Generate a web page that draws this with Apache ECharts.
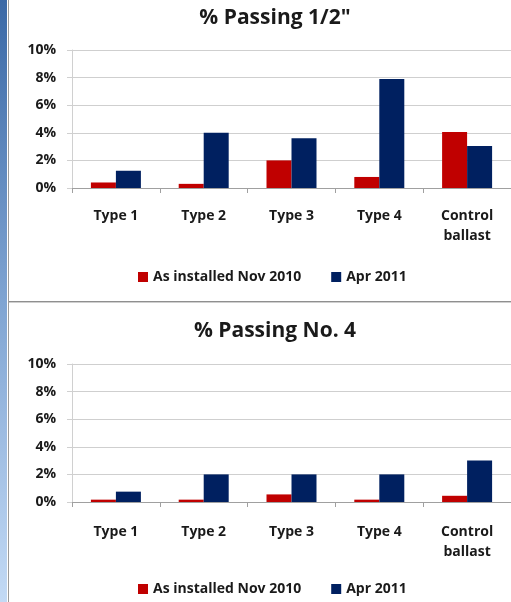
<!DOCTYPE html>
<html>
<head>
<meta charset="utf-8">
<script src="https://cdn.jsdelivr.net/npm/echarts@6/dist/echarts.min.js"></script>
<style>
html,body{margin:0;padding:0;background:#fff;}
#chart{width:511px;height:602px;}
</style>
</head>
<body>
<div id="chart"></div>
<script>
// ---- data ----
const categories = ['Type 1', 'Type 2', 'Type 3', 'Type 4', 'Control\nballast'];
const seriesNames = ['As installed Nov 2010', 'Apr 2011'];
const titles = ['% Passing 1/2"', '% Passing No. 4'];
const halfInchNov2010 = [0.4, 0.3, 2.0, 0.8, 4.05];
const halfInchApr2011 = [1.25, 4.0, 3.6, 7.9, 3.05];
const no4Nov2010 = [0.17, 0.17, 0.55, 0.17, 0.45];
const no4Apr2011 = [0.75, 2.0, 2.0, 2.0, 3.0];
const yMin = 0, yMax = 10, yStep = 2;

// ---- styles ----
const RED = '#c00000';
const NAVY = '#002060';
const FONT = '"Open Sans", "Noto Sans", sans-serif';
const TXT = '#1a1a1a';

const chart = echarts.init(document.getElementById('chart'), null, {renderer: 'canvas'});

const gridTops = [50, 364];
const gridHeight = 138;

function xAxis(i, margin) {
  return {
    type: 'category', gridIndex: i, data: categories,
    axisLine: {lineStyle: {color: '#a0a0a0', width: 1}},
    axisTick: {show: true, length: 5, alignWithLabel: false, lineStyle: {color: '#a0a0a0'}},
    axisLabel: {color: TXT, fontFamily: FONT, fontWeight: 'bold', fontSize: 14, lineHeight: 20, margin: margin, interval: 0}
  };
}
function yAxis(i) {
  return {
    type: 'value', gridIndex: i, min: yMin, max: yMax, interval: yStep,
    axisLine: {show: true, lineStyle: {color: '#d0d0d0'}},
    axisTick: {show: true, length: 5, lineStyle: {color: '#d0d0d0'}},
    splitLine: {lineStyle: {color: '#cfcfcf', width: 1}},
    axisLabel: {color: TXT, fontFamily: FONT, fontWeight: 'bold', fontSize: 14, margin: 16, formatter: '{value}%'}
  };
}
function bar(name, data, color, i) {
  return {
    name: name, type: 'bar', xAxisIndex: i, yAxisIndex: i, data: data,
    barWidth: 25, barGap: '0%', itemStyle: {color: color},
    emphasis: {disabled: true}, animation: false
  };
}
function legend(top) {
  return {
    left: 138, top: top, padding: 0, itemWidth: 10, itemHeight: 10, itemGap: 30,
    icon: 'rect',
    data: seriesNames,
    textStyle: {color: TXT, fontFamily: FONT, fontWeight: 'bold', fontSize: 14},
    selectedMode: false
  };
}

const option = {
  backgroundColor: '#ffffff',
  animation: false,
  title: [
    {text: titles[0], left: 270, top: 3, textAlign: 'center',
     textStyle: {color: TXT, fontFamily: FONT, fontWeight: 'bold', fontSize: 21}},
    {text: titles[1], left: 270, top: 316, textAlign: 'center',
     textStyle: {color: TXT, fontFamily: FONT, fontWeight: 'bold', fontSize: 21}}
  ],
  legend: [legend(270), legend(582)],
  grid: [
    {left: 72, top: gridTops[0], width: 443, height: gridHeight},
    {left: 72, top: gridTops[1], width: 443, height: gridHeight}
  ],
  xAxis: [xAxis(0, 18), xAxis(1, 20)],
  yAxis: [yAxis(0), yAxis(1)],
  series: [
    bar(seriesNames[0], halfInchNov2010, RED, 0),
    bar(seriesNames[1], halfInchApr2011, NAVY, 0),
    bar(seriesNames[0], no4Nov2010, RED, 1),
    bar(seriesNames[1], no4Apr2011, NAVY, 1)
  ],
  graphic: [
    {type: 'rect', left: 0, top: 0, shape: {x: 0, y: 0, width: 7, height: 602}, z: 100,
     style: {fill: new echarts.graphic.LinearGradient(0, 0, 0, 1, [
       {offset: 0, color: '#3b69a6'}, {offset: 0.5, color: '#7fa4d2'}, {offset: 1, color: '#c3daf5'}])}},
    {type: 'line', shape: {x1: 8.5, y1: 0, x2: 8.5, y2: 602}, z: 100,
     style: {stroke: '#9a9a9a', lineWidth: 1}},
    {type: 'line', shape: {x1: 9, y1: 301.5, x2: 511, y2: 301.5}, z: 100,
     style: {stroke: '#8f8f8f', lineWidth: 1}},
    {type: 'line', shape: {x1: 9, y1: 302.5, x2: 511, y2: 302.5}, z: 100,
     style: {stroke: '#cfcfcf', lineWidth: 1}}
  ]
};
chart.setOption(option);
</script>
</body>
</html>
